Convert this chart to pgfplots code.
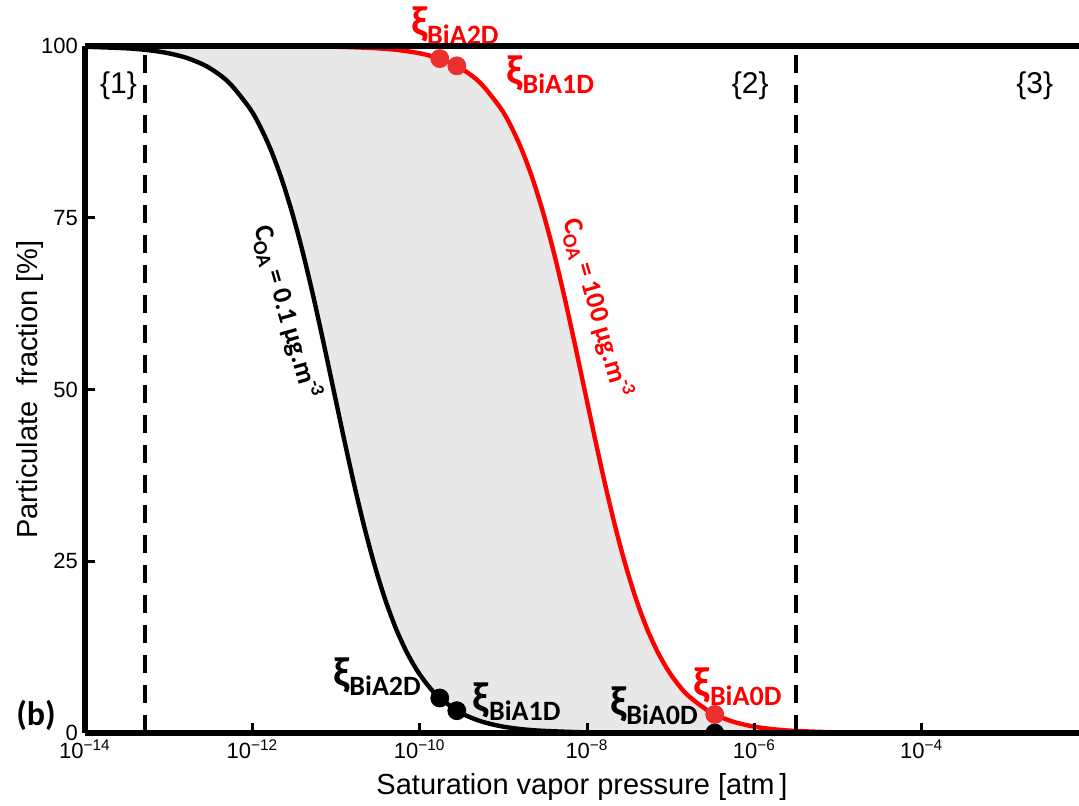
\documentclass[border=0pt]{standalone}
\usepackage{fontspec}
\setmainfont{Liberation Sans}
\newfontfamily\carl{Carlito}
\usepackage{pgfplots}
\pgfplotsset{compat=1.18}
\usepackage{pgfplotstable}
\usepgfplotslibrary{fillbetween}
\usetikzlibrary{calc}

\definecolor{fillgray}{RGB}{232,232,232}
\definecolor{dotred}{RGB}{236,48,48}

\newcommand\lab{\carl\bfseries}
\newcommand\xil[1]{{\fontsize{21}{24}\selectfont ξ}\raisebox{-4.5pt}{\fontsize{14}{16}\selectfont #1}}
\newcommand\coa[1]{C\raisebox{-3pt}{\fontsize{10}{11}\selectfont OA} = #1 µg.m\raisebox{5pt}{\fontsize{9.5}{10}\selectfont -3}}

% log10 of p_sat [atm] vs particulate fraction [%]
\pgfplotstableread{
L F
-14.00 99.89
-13.53 99.68
-13.28 99.44
-13.03 99.01
-12.78 98.25
-12.53 96.93
-12.28 94.68
-12.03 90.91
-11.905 88.23
-11.78 84.91
-11.655 80.83
-11.53 75.97
-11.405 70.34
-11.28 64.01
-11.155 57.14
-11.03 50.00
-10.905 42.86
-10.78 35.99
-10.655 29.66
-10.53 24.03
-10.405 19.17
-10.28 15.09
-10.155 11.77
-10.03 9.09
-9.905 6.98
-9.78 5.32
-9.53 3.07
-9.28 1.75
-9.03 0.99
-8.78 0.56
-8.53 0.32
-8.03 0.10
-7.53 0.03
-7.03 0.01
-5.00 0.00
-2.12 0.00
}\lowcoa

\pgfplotstableread{
L F
-14.00 100.00
-12.03 99.99
-11.03 99.90
-10.53 99.68
-10.28 99.44
-10.03 99.01
-9.78 98.25
-9.53 96.93
-9.28 94.68
-9.03 90.91
-8.905 88.23
-8.78 84.91
-8.655 80.83
-8.53 75.97
-8.405 70.34
-8.28 64.01
-8.155 57.14
-8.03 50.00
-7.905 42.86
-7.78 35.99
-7.655 29.66
-7.53 24.03
-7.405 19.17
-7.28 15.09
-7.155 11.77
-7.03 9.09
-6.905 6.98
-6.78 5.32
-6.53 3.07
-6.28 1.75
-6.03 0.99
-5.78 0.56
-5.53 0.32
-5.03 0.10
-4.53 0.03
-4.03 0.01
-3.00 0.00
-2.12 0.00
}\highcoa

\begin{document}
\begin{tikzpicture}
\begin{axis}[
  scale only axis,
  width=497pt, height=343.5pt,
  xmin=-14, xmax=-2.12,
  ymin=0, ymax=100,
  axis x line=box, axis y line=left,
  axis line style={-, line width=3pt},
  xtick pos=left,
  tick align=inside,
  major tick length=5pt,
  every tick/.style={black, line width=1.5pt},
  xtick={-14,-12,-10,-8,-6,-4},
  xticklabels={10\textsuperscript{\textminus14},10\textsuperscript{\textminus12},10\textsuperscript{\textminus10},10\textsuperscript{\textminus8},10\textsuperscript{\textminus6},10\textsuperscript{\textminus4}},
  ytick={0,25,50,75,100},
  tick label style={font=\fontsize{11}{13}\selectfont},
  /pgf/number format/assume math mode=true,
  xlabel={Saturation vapor pressure [atm\,]},
  ylabel={Particulate\ \ fraction [\%]},
  label style={font=\fontsize{14.5}{17}\selectfont},
  xlabel style={at={(rel axis cs:0.5,0)}, anchor=center, yshift=-27pt},
  ylabel style={at={(rel axis cs:0,0.5)}, anchor=center, rotate=0, yshift=27.5pt},
  axis on top,
  clip mode=individual,
  clip marker paths=true,
]
\addplot[name path=hi, red, line width=2.2pt, smooth] table {\highcoa};
\addplot[name path=lo, black, line width=2.2pt, smooth] table {\lowcoa};
\addplot[fillgray] fill between[of=hi and lo];

\addplot[black, line width=2pt, dash pattern=on 9pt off 6pt] coordinates {(-13.28,0) (-13.28,100)};
\addplot[black, line width=2pt, dash pattern=on 9pt off 6pt] coordinates {(-5.505,0) (-5.505,100)};

\addplot[only marks, mark=*, mark size=4.5pt, black] coordinates {(-9.76,5.10) (-9.556,3.25) (-6.473,0.0)};
\addplot[only marks, mark=*, mark size=4.5pt, dotred, mark options={draw=dotred, fill=dotred}] coordinates {(-9.76,98.17) (-9.556,97.11) (-6.473,2.70)};

\node[font=\fontsize{15}{18}\selectfont] at (axis cs:-13.6,94.2) {\{1\}};
\node[font=\fontsize{15}{18}\selectfont] at (axis cs:-6.05,94.2) {\{2\}};
\node[font=\fontsize{15}{18}\selectfont] at (axis cs:-2.65,94.2) {\{3\}};

\node[font=\lab\fontsize{17}{19}\selectfont] at (axis cs:-14.585,2.6) {(b)};

\node[red, font=\lab] at (axis cs:-9.58,103.0) {\xil{BiA2D}};
\node[red, font=\lab] at (axis cs:-8.44,95.8) {\xil{BiA1D}};
\node[red, font=\lab] at (axis cs:-6.20,6.8) {\xil{BiA0D}};
\node[black, font=\lab] at (axis cs:-10.51,8.2) {\xil{BiA2D}};
\node[black, font=\lab] at (axis cs:-8.84,4.5) {\xil{BiA1D}};
\node[black, font=\lab] at (axis cs:-7.20,4.0) {\xil{BiA0D}};

\node[black, rotate=-74, font=\lab\fontsize{13.5}{15}\selectfont] at (axis cs:-11.59,61.3) {\coa{0.1}};
\node[red, rotate=-74, font=\lab\fontsize{13.5}{15}\selectfont] at (axis cs:-7.88,61.9) {\coa{100}};

\coordinate (bl) at (rel axis cs:0,0);
\coordinate (tr) at (rel axis cs:1,1);
\end{axis}
\pgfresetboundingbox
\path[use as bounding box] ($(bl)+(-42.5pt,-36pt)$) rectangle ($(tr)+(0,23pt)$);
\end{tikzpicture}
\end{document}
